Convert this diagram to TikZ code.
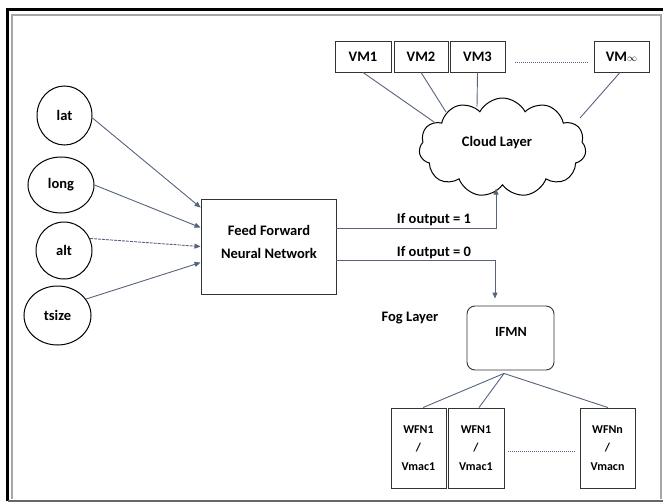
\documentclass[tikz,border=0pt]{standalone}
\usepackage{fontspec}
\setmainfont{Carlito}
\usetikzlibrary{shapes.symbols,shapes.geometric,arrows.meta,calc}
\definecolor{linec}{HTML}{56627E}
\definecolor{edgec}{HTML}{333333}
\begin{document}
\begin{tikzpicture}[x=1pt,y=-1pt,
  inp/.style={ellipse,draw=black,line width=1pt,inner sep=0pt,
    font=\bfseries\fontsize{14.5}{17}\selectfont},
  bx/.style={rectangle,draw=edgec,line width=0.9pt,inner sep=0pt,
    font=\bfseries\fontsize{14.5}{17}\selectfont},
  vmbox/.style={bx,minimum height=31pt},
  wfbox/.style={bx,minimum width=55pt,minimum height=80pt,
    font=\bfseries\fontsize{12}{18.5}\selectfont},
  txt/.style={inner sep=0pt,font=\bfseries\fontsize{14.5}{17}\selectfont},
  conn/.style={draw=linec,line width=0.9pt},
  arr/.style={conn,-{Triangle[length=6pt,width=5pt]}},
  dotline/.style={draw=linec,line width=0.8pt,dash pattern=on 1pt off 1pt}]
\useasboundingbox (0,0) rectangle (663,503);
% frame
\draw[black,line width=2.5pt] (663,9.5) -- (7.5,9.5) -- (7.5,501);
\draw[black!60,line width=2.2pt] (7.5,501) -- (663,501);
\draw[black!35,line width=1.6pt] (12,499) -- (12,15) -- (661,15) -- (661,499);
% inputs
\node[inp,minimum width=55pt,minimum height=59pt] (lat) at (64.5,115.5) {lat};
\node[inp,minimum width=66pt,minimum height=56pt] (long) at (61,185) {long};
\node[inp,minimum width=56pt,minimum height=57pt] (alt) at (64,250.5) {alt};
\node[inp,minimum width=67pt,minimum height=59pt] (tsize) at (57.5,315.5) {tsize};
% FFNN
\node[bx,minimum width=135pt,minimum height=95pt] (ffnn) at (268.5,246.5) {};
\node[txt,align=center,font=\bfseries\fontsize{14.5}{23}\selectfont] (ffnnt) at (269,242) {Feed Forward\\Neural Network};
% VMs
\node[vmbox,minimum width=56pt] (vm1) at (363,56.5) {VM1};
\node[vmbox,minimum width=54pt] (vm2) at (421,56.5) {VM2};
\node[vmbox,minimum width=55pt] (vm3) at (477.5,56.5) {VM3};
\node[vmbox,minimum width=55pt] (vmn) at (621.5,56.5) {VM{\fontsize{10}{10}\selectfont$\infty$}};
\coordinate (d1a) at (515,62);
\coordinate (d1b) at (589,62);
\draw[dotline] (d1a) -- (d1b);
% cloud
\node[cloud,draw=black,line width=1pt,cloud puffs=11,cloud puff arc=125,
  cloud ignores aspect,minimum width=167pt,minimum height=99pt,inner sep=0pt] (cloud) at (502.5,147.5) {};
\node[txt] (cloudt) at (497,143) {Cloud Layer};
\draw[conn] (vm1.south) -- ($(cloud.center)+(-68.5,-25.5)$);
\draw[conn] (vm2.south) -- ($(cloud.center)+(-56.5,-35.5)$);
\draw[conn] (vm3.south) -- ($(cloud.center)+(-25.5,-40.5)$);
\draw[conn] ($(vmn.south)+(-1.5,0)$) -- ($(cloud.center)+(77.5,-29.5)$);
% inputs to FFNN
\draw[arr] (lat.-5) -- ($(ffnn.north west)+(0,9)$);
\draw[arr] (long.east) -- ($(ffnn.north west)+(0,29)$);
\draw[arr,dash pattern=on 3pt off 1pt] (alt.25) -- ($(ffnn.north west)+(0,48)$);
\draw[arr] (tsize.30) -- ($(ffnn.north west)+(0,64)$);
% IFMN
\node[bx,rounded corners=8pt,minimum width=87pt,minimum height=64pt] (ifmn) at (510.5,338) {};
\node[txt,font=\bfseries\fontsize{14}{17}\selectfont] (ifmnt) at (511,332) {IFMN};
\node[txt] (fog) at (410,318) {Fog Layer};
% outputs
\draw[arr] ($(ffnn.north east)+(0,30)$) -| ($(cloud.south)+(-6.5,3)$);
\draw[arr] ($(ffnn.north east)+(0,62)$) -| ($(ifmn.north)+(-15.5,-7)$);
\node[txt] (o1) at (434,220) {If output = 1};
\node[txt] (o0) at (434,253) {If output = 0};
% WFN boxes
\node[wfbox] (w1) at (418.5,448) {\raisebox{5pt}{\begin{tabular}{@{}c@{}}WFN1\\/\\Vmac1\end{tabular}}};
\node[wfbox,minimum width=56pt] (w2) at (476,448) {\raisebox{5pt}{\begin{tabular}{@{}c@{}}WFN1\\/\\Vmac1\end{tabular}}};
\node[wfbox] (wn) at (607.5,448) {\raisebox{5pt}{\begin{tabular}{@{}c@{}}WFNn\\/\\Vmacn\end{tabular}}};
\coordinate (d2a) at (508,451);
\coordinate (d2b) at (576,451);
\draw[dotline] (d2a) -- (d2b);
\coordinate (hub) at ($(ifmn.south)+(-6.5,3)$);
\draw[conn] (hub) -- ($(w1.north)+(4.5,0)$);
\draw[conn] (hub) -- ($(w2.north)+(3,0)$);
\draw[conn] (hub) -- ($(wn.north)+(0.5,0)$);
\end{tikzpicture}
\end{document}
